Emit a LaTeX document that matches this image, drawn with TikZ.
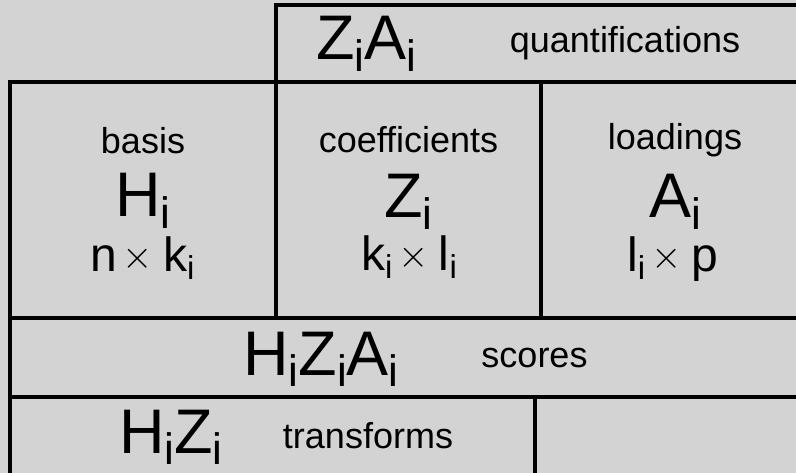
\documentclass[tikz,border=0pt]{standalone}
\usepackage{fontspec}
\setmainfont{Liberation Sans}
\definecolor{panel}{RGB}{211,211,211}
% subscript: smaller letter lowered below the baseline
\newcommand{\lowsub}[2]{\raisebox{-#1}{\fontsize{#2}{#2}\selectfont i}}
\newcommand{\bigsym}[1]{#1\lowsub{12pt}{44pt}}
\newcommand{\dimsym}[1]{#1\lowsub{8pt}{33pt}}
% thin multiplication sign between two dimensions
\newcommand{\dimx}{\hspace{6pt}\raisebox{3pt}{\scalebox{3.9}{\fontsize{10}{10}\selectfont$\times$}}\hspace{10pt}}
\begin{document}
\begin{tikzpicture}[x=1pt,y=-1pt,
  grid/.style={line width=3.2pt,line cap=rect},
  word/.style={font=\fontsize{36}{36}\selectfont,anchor=base,inner sep=0pt},
  mat/.style={font=\fontsize{63}{63}\selectfont,anchor=base,inner sep=0pt},
  dims/.style={font=\fontsize{48}{48}\selectfont,anchor=base west,inner sep=0pt}]
\useasboundingbox (0,0) rectangle (796,473);
\clip (0,0) rectangle (796,473);
\fill[panel] (0,0) rectangle (796,473);

% table rules
\draw[grid] (276,318) -- (276,5) -- (810,5);
\draw[grid] (10,480) -- (10,82) -- (810,82);
\draw[grid] (541,82) -- (541,318);
\draw[grid] (10,318) -- (810,318);
\draw[grid] (10,397) -- (810,397);
\draw[grid] (535,397) -- (535,480);

% top row
\node[mat]  (za)    at (366.5,60) {\bigsym{Z}\bigsym{A}};
\node[word] (quant) at (625,53)   {quantifications};

% middle row
\node[word] (basis) at (143,154) {basis};
\node[mat]  (h)     at (143,217) {\bigsym{H}};
\node[dims] (hdim)  at (90,272)  {n\dimx\dimsym{k}};

\node[word] (coef)  at (408.5,153) {coefficients};
\node[mat]  (z)     at (408.5,218) {\bigsym{Z}};
\node[dims] (zdim)  at (361,271)   {\dimsym{k}\dimx\dimsym{l}};

\node[word] (load)  at (675,150) {loadings};
\node[mat]  (a)     at (675,218) {\bigsym{A}};
\node[dims] (adim)  at (627,272) {\dimsym{l}\dimx p};

% scores row
\node[mat]  (hza)   at (321,375)   {\bigsym{H}\bigsym{Z}\bigsym{A}};
\node[word] (score) at (534.5,367) {scores};

% bottom row
\node[mat]  (hz)    at (171,453) {\bigsym{H}\bigsym{Z}};
\node[word] (trans) at (368,448) {transforms};
\end{tikzpicture}
\end{document}
